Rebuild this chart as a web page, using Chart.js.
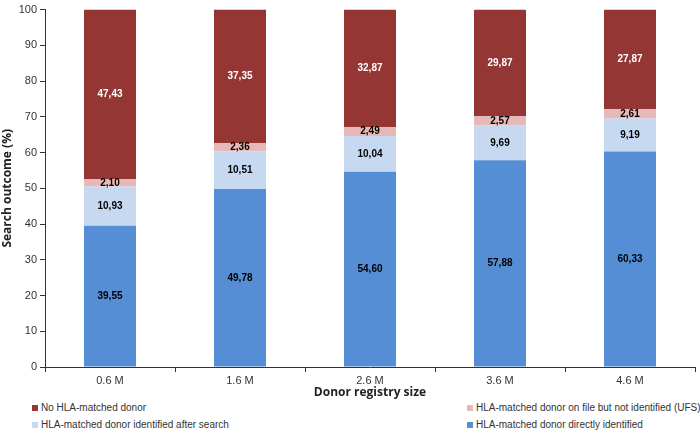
<!DOCTYPE html>
<html><head><meta charset="utf-8">
<script src="https://cdn.jsdelivr.net/npm/chart.js@4/dist/chart.umd.min.js"></script>
<style>
html,body{margin:0;padding:0;background:#fff;}
#wrap{position:relative;width:700px;height:445px;}
#c{position:absolute;left:0;top:0;}
.lg{position:absolute;font:10px Arial,"Liberation Sans",sans-serif;color:#333;white-space:nowrap;}
.lg i{display:inline-block;width:6px;height:6px;margin-right:3px;vertical-align:0px;}
</style></head>
<body><div id="wrap"><canvas id="c" width="700" height="400"></canvas><div id="legend"></div></div>
<script>
const categories = ["0.6 M","1.6 M","2.6 M","3.6 M","4.6 M"];
const directlyIdentified = [39.55,49.78,54.60,57.88,60.33];
const identifiedAfterSearch = [10.93,10.51,10.04,9.69,9.19];
const onFileNotIdentified = [2.10,2.36,2.49,2.57,2.61];
const noMatchedDonor = [47.43,37.35,32.87,29.87,27.87];
const yTicks = [0,10,20,30,40,50,60,70,80,90,100];

const datasets = [
  {label:"HLA-matched donor directly identified", data:directlyIdentified, backgroundColor:"#558ed5", labelColor:"#000"},
  {label:"HLA-matched donor identified after search", data:identifiedAfterSearch, backgroundColor:"#c6d9f1", labelColor:"#000"},
  {label:"HLA-matched donor on file but not identified (UFS)", data:onFileNotIdentified, backgroundColor:"#e6b9b8", labelColor:"#000"},
  {label:"No HLA-matched donor", data:noMatchedDonor, backgroundColor:"#943634", labelColor:"#fff"}
];
datasets.forEach(d=>{d.barPercentage=0.4;d.categoryPercentage=1;});

const labelPlugin = {
  id:'vals',
  afterDatasetsDraw(chart){
    const ctx = chart.ctx;
    ctx.save();
    ctx.font = "bold 10px Arial, 'Liberation Sans', sans-serif";
    ctx.textAlign = "center"; ctx.textBaseline = "middle";
    chart.data.datasets.forEach((ds,i)=>{
      chart.getDatasetMeta(i).data.forEach((bar,j)=>{
        const v = ds.data[j];
        ctx.fillStyle = ds.labelColor;
        const y = (bar.y + bar.base)/2;
        ctx.fillText(v.toFixed(2).replace('.',','), bar.x, y);
      });
    });
    ctx.restore();
  }
};

new Chart(document.getElementById('c'), {
  type:'bar',
  data:{labels:categories, datasets},
  options:{
    responsive:false, animation:false,
    layout:{padding:{top:4,right:5,left:0,bottom:0}},
    plugins:{legend:{display:false}, tooltip:{enabled:false}},
    scales:{
      x:{stacked:true,
        grid:{display:true,drawOnChartArea:false,drawTicks:true,tickLength:5,color:"#333",offset:true},
        border:{display:true,color:"#333",width:1},
        ticks:{color:"#333",font:{size:11,family:"Arial, 'Liberation Sans', sans-serif"},padding:2},
        title:{display:true,text:"Donor registry size",color:"#222",font:{size:12,weight:"bold",family:"'Open Sans', Arial, sans-serif"},padding:{top:0,bottom:0}},
        afterFit(s){s.height = 33;}
      },
      y:{stacked:true,min:0,max:100,
        afterBuildTicks(s){s.ticks = yTicks.map(v=>({value:v}));},
        grid:{display:true,drawOnChartArea:false,drawTicks:true,tickLength:5,color:"#333"},
        border:{display:true,color:"#333",width:1},
        ticks:{color:"#333",font:{size:11,family:"Arial, 'Liberation Sans', sans-serif"},padding:3},
        title:{display:true,text:"Search outcome (%)",color:"#222",font:{size:12,weight:"bold",family:"'Open Sans', Arial, sans-serif"},padding:{top:0,bottom:4}},
        afterFit(s){s.width = 45;}
      }
    }
  },
  plugins:[labelPlugin]
});

// HTML legend built from datasets
const legendOrder = [
  {ds:3,x:32,y:402},{ds:2,x:467,y:402},
  {ds:1,x:32,y:419},{ds:0,x:467,y:419}
];
const lg = document.getElementById('legend');
legendOrder.forEach(o=>{
  const d = datasets[o.ds];
  const el = document.createElement('div');
  el.className='lg'; el.style.left=o.x+'px'; el.style.top=o.y+'px';
  el.innerHTML = '<i style="background:'+d.backgroundColor+'"></i>'+d.label;
  lg.appendChild(el);
});
</script></body></html>
